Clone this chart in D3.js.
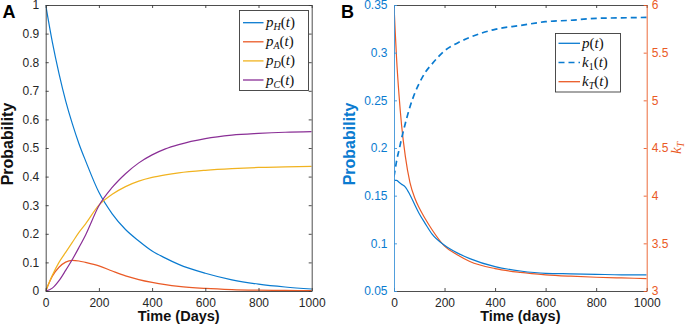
<!DOCTYPE html>
<html>
<head>
<meta charset="utf-8">
<script src="https://cdn.jsdelivr.net/npm/d3@7"></script>
<style>
    body { margin: 0; background: #fff; }
</style>
</head>
<body>
<div id="chart"></div>
<script>
// ---- panel A data ----
const daysA = [0, 25, 50, 75, 100, 125, 150, 200, 250, 300, 350, 400, 450, 500, 600, 700, 800, 900, 1000];
const pH = [1, 0.87, 0.76, 0.665, 0.585, 0.515, 0.455, 0.345, 0.27, 0.215, 0.175, 0.14, 0.115, 0.093, 0.062, 0.039, 0.024, 0.014, 0.007];
const pA = [0, 0.052, 0.083, 0.101, 0.107, 0.105, 0.1, 0.088, 0.07, 0.053, 0.04, 0.03, 0.022, 0.016, 0.009, 0.005, 0.003, 0.002, 0.001];
const pD = [0, 0.055, 0.1, 0.135, 0.17, 0.205, 0.235, 0.3, 0.338, 0.365, 0.384, 0.397, 0.406, 0.413, 0.422, 0.428, 0.432, 0.434, 0.436];
const pC = [0, 0.01, 0.036, 0.072, 0.11, 0.152, 0.196, 0.298, 0.362, 0.41, 0.448, 0.476, 0.497, 0.512, 0.533, 0.545, 0.551, 0.555, 0.557];

// ---- panel B data ----
const daysB = [0, 5, 10, 20, 30, 45, 63, 83, 100, 123, 150, 200, 250, 300, 400, 500, 600, 700, 800, 900, 1000];
const pT = [0.167, 0.166, 0.166, 0.164, 0.162, 0.159, 0.151, 0.14, 0.131, 0.121, 0.11, 0.098, 0.09, 0.084, 0.0755, 0.071, 0.0685, 0.068, 0.0675, 0.067, 0.067];
const k1 = [0.17, 0.178, 0.186, 0.198, 0.21, 0.226, 0.243, 0.258, 0.268, 0.279, 0.288, 0.302, 0.31, 0.316, 0.3245, 0.3285, 0.3325, 0.334, 0.336, 0.3365, 0.337];
const kT = [6, 5.71, 5.45, 5.05, 4.74, 4.41, 4.14, 3.97, 3.87, 3.76, 3.645, 3.47, 3.38, 3.31, 3.235, 3.195, 3.17, 3.155, 3.144, 3.137, 3.13];

// ---- ticks ----
const xTicks = [0, 200, 400, 600, 800, 1000];
const yTicksA = [0, 0.1, 0.2, 0.3, 0.4, 0.5, 0.6, 0.7, 0.8, 0.9, 1];
const yTicksB = [0.05, 0.1, 0.15, 0.2, 0.25, 0.3, 0.35];
const kTicksB = [3, 3.5, 4, 4.5, 5, 5.5, 6];

const blue = "#0a7bd0", orange = "#ea5a26", yellow = "#f1b320", purple = "#8a2f96";
const axisGray = "#3a3a3a", textGray = "#262626";
const sans = "'Liberation Sans', Arial, Helvetica, sans-serif";
const serif = "'Liberation Serif', 'Times New Roman', serif";

const svg = d3.select("#chart").append("svg")
    .attr("width", 690)
    .attr("height", 333)
    .style("font-family", sans);

// style helper for an axis group
function styleAxis(g, color, textColor) {
    g.selectAll("path, line").attr("stroke", color).attr("stroke-width", 0.9);
    g.selectAll("text").attr("fill", textColor || color)
        .style("font-size", "12px").style("font-family", sans);
}

// LaTeX-like label  base_sub(t); digits in subscripts stay upright
function latexLabel(sel, base, sub, withArg = true) {
    sel.style("font-family", serif).style("font-size", "15px");
    sel.append("tspan").style("font-style", "italic").text(base);
    if (sub) {
        sel.append("tspan").style("font-style", /\d/.test(sub) ? "normal" : "italic")
            .style("font-size", "10px")
            .attr("dy", 3).text(sub);
    }
    if (!withArg) return;
    sel.append("tspan").attr("dy", sub ? -3 : 0).text("(");
    sel.append("tspan").style("font-style", "italic").text("t");
    sel.append("tspan").text(")");
}

// ================= PANEL A =================
let A = {left: 45.7, right: 311.7, top: 5, bottom: 291};

let xA = d3.scaleLinear().domain([0, 1000]).range([A.left, A.right]);
let yA = d3.scaleLinear().domain([0, 1]).range([A.bottom, A.top]);

svg.append("clipPath").attr("id", "clipA").append("rect")
    .attr("x", A.left).attr("y", A.top - 1)
    .attr("width", A.right - A.left).attr("height", A.bottom - A.top + 2);

let seriesA = [
    {vals: pH, color: blue},
    {vals: pA, color: orange},
    {vals: pD, color: yellow},
    {vals: pC, color: purple}
];

let lineA = d3.line()
    .x((d, i) => xA(daysA[i]))
    .y(d => yA(d))
    .curve(d3.curveMonotoneX);

svg.append("g").attr("clip-path", "url(#clipA)")
    .selectAll("path")
    .data(seriesA)
    .enter().append("path")
    .attr("fill", "none")
    .attr("stroke", d => d.color)
    .attr("stroke-width", 1.2)
    .attr("d", d => lineA(d.vals));

// axes (ticks inward, box mirrored)
svg.append("g").attr("transform", `translate(0,${A.bottom})`)
    .call(d3.axisBottom(xA).tickValues(xTicks).tickSizeInner(-3).tickSizeOuter(0).tickPadding(7)
        .tickFormat(d3.format("d")))
    .call(g => styleAxis(g, axisGray, textGray));
svg.append("g").attr("transform", `translate(0,${A.top})`)
    .call(d3.axisTop(xA).tickValues(xTicks).tickSizeInner(-3).tickSizeOuter(0).tickFormat(""))
    .call(g => styleAxis(g, axisGray));
svg.append("g").attr("transform", `translate(${A.left},0)`)
    .call(d3.axisLeft(yA).tickValues(yTicksA).tickSizeInner(-3).tickSizeOuter(0).tickPadding(6.5)
        .tickFormat(d3.format("~g")))
    .call(g => styleAxis(g, axisGray, textGray));
svg.append("g").attr("transform", `translate(${A.right},0)`)
    .call(d3.axisRight(yA).tickValues(yTicksA).tickSizeInner(-3).tickSizeOuter(0).tickFormat(""))
    .call(g => styleAxis(g, axisGray));

svg.append("text")
    .attr("x", (A.left + A.right) / 2).attr("y", 321)
    .attr("text-anchor", "middle")
    .style("font-weight", "bold").style("font-size", "14.5px")
    .attr("fill", "#111")
    .text("Time (Days)");

svg.append("text")
    .attr("transform", `translate(13,${(A.top + A.bottom) / 2 - 4}) rotate(-90)`)
    .attr("text-anchor", "middle")
    .style("font-weight", "bold").style("font-size", "16px")
    .attr("fill", "#111")
    .text("Probability");

svg.append("text")
    .attr("x", 2.5).attr("y", 18)
    .style("font-weight", "bold").style("font-size", "18px")
    .attr("fill", "#000")
    .text("A");

// legend A
let legA = svg.append("g");
legA.append("rect")
    .attr("x", 239.5).attr("y", 10.5).attr("width", 69).attr("height", 80)
    .attr("fill", "#fff").attr("stroke", axisGray).attr("stroke-width", 0.9);

let legAItems = [
    {base: "p", sub: "H", color: blue},
    {base: "p", sub: "A", color: orange},
    {base: "p", sub: "D", color: yellow},
    {base: "p", sub: "C", color: purple}
];
legAItems.forEach((d, i) => {
    let yy = 22.7 + i * 19.1;
    legA.append("line")
        .attr("x1", 243).attr("x2", 263.5).attr("y1", yy).attr("y2", yy)
        .attr("stroke", d.color).attr("stroke-width", 1.3);
    legA.append("text").attr("x", 266).attr("y", yy + 4.5).attr("fill", "#111")
        .call(s => latexLabel(s, d.base, d.sub));
});

// ================= PANEL B =================
let B = {left: 394, right: 646.7, top: 5, bottom: 291};

let xB = d3.scaleLinear().domain([0, 1000]).range([B.left, B.right]);
let yB = d3.scaleLinear().domain([0.05, 0.35]).range([B.bottom, B.top]);
let kB = d3.scaleLinear().domain([3, 6]).range([B.bottom, B.top]);

svg.append("clipPath").attr("id", "clipB").append("rect")
    .attr("x", B.left).attr("y", B.top - 1)
    .attr("width", B.right - B.left).attr("height", B.bottom - B.top + 2);

let lineB = d3.line()
    .x((d, i) => xB(daysB[i]))
    .curve(d3.curveMonotoneX);

let gB = svg.append("g").attr("clip-path", "url(#clipB)");

gB.append("path")
    .attr("fill", "none").attr("stroke", orange).attr("stroke-width", 1.2)
    .attr("d", lineB.y(d => kB(d))(kT));
gB.append("path")
    .attr("fill", "none").attr("stroke", blue).attr("stroke-width", 1.2)
    .attr("d", lineB.y(d => yB(d))(pT));
gB.append("path")
    .attr("fill", "none").attr("stroke", blue).attr("stroke-width", 1.7)
    .attr("stroke-dasharray", "6,4")
    .attr("d", lineB.y(d => yB(d))(k1));

svg.append("g").attr("transform", `translate(0,${B.bottom})`)
    .call(d3.axisBottom(xB).tickValues(xTicks).tickSizeInner(-3).tickSizeOuter(0).tickPadding(7)
        .tickFormat(d3.format("d")))
    .call(g => styleAxis(g, axisGray, textGray));
svg.append("g").attr("transform", `translate(0,${B.top})`)
    .call(d3.axisTop(xB).tickValues(xTicks).tickSizeInner(-3).tickSizeOuter(0).tickFormat(""))
    .call(g => styleAxis(g, axisGray));
svg.append("g").attr("transform", `translate(${B.left},0)`)
    .call(d3.axisLeft(yB).tickValues(yTicksB).tickSizeInner(-3).tickSizeOuter(0).tickPadding(6.5)
        .tickFormat(d3.format("~g")))
    .call(g => styleAxis(g, "#3d93d8", blue));
svg.append("g").attr("transform", `translate(${B.right},0)`)
    .call(d3.axisRight(kB).tickValues(kTicksB).tickSizeInner(-3).tickSizeOuter(0).tickPadding(5)
        .tickFormat(d3.format("~g")))
    .call(g => styleAxis(g, orange));

svg.append("text")
    .attr("x", (B.left + B.right) / 2).attr("y", 321)
    .attr("text-anchor", "middle")
    .style("font-weight", "bold").style("font-size", "14.5px")
    .attr("fill", "#111")
    .text("Time (days)");

svg.append("text")
    .attr("transform", `translate(355,${(B.top + B.bottom) / 2 - 4}) rotate(-90)`)
    .attr("text-anchor", "middle")
    .style("font-weight", "bold").style("font-size", "16px")
    .attr("fill", blue)
    .text("Probability");

svg.append("text")
    .attr("transform", `translate(681,${(B.top + B.bottom) / 2}) rotate(-90)`)
    .attr("text-anchor", "middle")
    .attr("fill", orange)
    .call(s => latexLabel(s, "k", "T", false));

svg.append("text")
    .attr("x", 341).attr("y", 17.5)
    .style("font-weight", "bold").style("font-size", "18px")
    .attr("fill", "#000")
    .text("B");

// legend B
let legB = svg.append("g");
legB.append("rect")
    .attr("x", 555.5).attr("y", 33.5).attr("width", 65).attr("height", 58.5)
    .attr("fill", "#fff").attr("stroke", axisGray).attr("stroke-width", 0.9);

let legBItems = [
    {base: "p", sub: null, color: blue, dash: null},
    {base: "k", sub: "1", color: blue, dash: "6,4"},
    {base: "k", sub: "T", color: orange, dash: null}
];
legBItems.forEach((d, i) => {
    let yy = 43.3 + i * 19.2;
    legB.append("line")
        .attr("x1", 558.5).attr("x2", 580).attr("y1", yy).attr("y2", yy)
        .attr("stroke", d.color).attr("stroke-width", d.dash ? 1.7 : 1.3)
        .attr("stroke-dasharray", d.dash);
    legB.append("text").attr("x", 582).attr("y", yy + 4.5).attr("fill", "#111")
        .call(s => latexLabel(s, d.base, d.sub));
});
</script>
</body>
</html>
